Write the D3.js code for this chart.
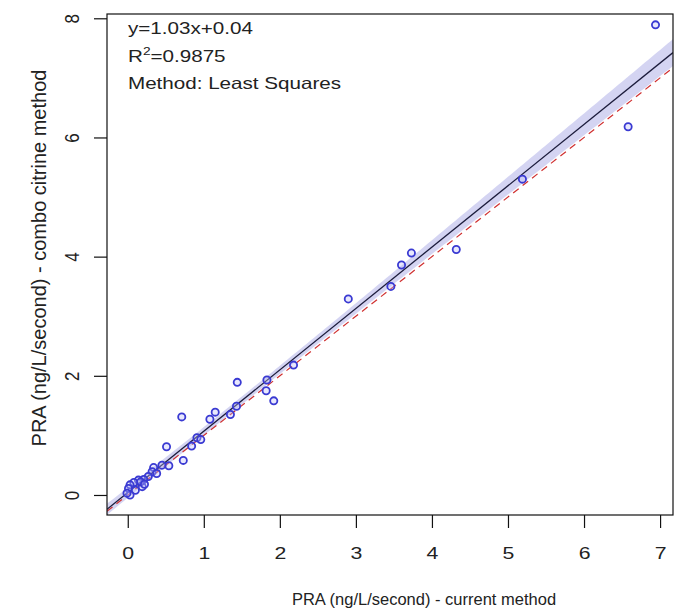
<!DOCTYPE html>
<html>
<head>
<meta charset="utf-8">
<script src="https://cdn.jsdelivr.net/npm/d3@7"></script>
<style>
  body { margin: 0; background: #fff; }
  text { font-family: "Liberation Sans", Arial, sans-serif; fill: #222; }
</style>
</head>
<body>
<div id="chart"></div>
<script>
// Data
var currentMethod = [6.94, 6.58, 5.19, 4.32, 3.73, 3.60, 3.46, 2.90, 2.18, 1.92,
  1.82, 1.83, 1.44, 1.43, 1.35, 1.15, 1.08, 0.71, 0.91, 0.96,
  0.84, 0.73, 0.51, 0.54, 0.45, 0.34, 0.32, 0.38, 0.27, 0.21,
  0.14, 0.08, 0.03, 0.01, 0.10, 0.19, 0.03, -0.01, 0.17, 0.22]
var comboMethod = [7.89, 6.18, 5.30, 4.12, 4.06, 3.86, 3.50, 3.29, 2.18, 1.58,
  1.75, 1.93, 1.89, 1.49, 1.35, 1.39, 1.27, 1.31, 0.96, 0.93,
  0.82, 0.58, 0.81, 0.49, 0.50, 0.46, 0.39, 0.36, 0.31, 0.26,
  0.25, 0.21, 0.17, 0.11, 0.08, 0.14, 0.00, 0.03, 0.22, 0.18]

var slope = 1.03
var intercept = 0.04
var rSquared = 0.9875
var xTicks = [0, 1, 2, 3, 4, 5, 6, 7]
var yTicks = [0, 2, 4, 6, 8]
var fitLines = ["y=1.03x+0.04", "R2=0.9875", "Method: Least Squares"]

var svgWidth = 675
var svgHeight = 611
var margin = { top: 14, right: 2, bottom: 96, left: 107 }
var width = svgWidth - margin.left - margin.right
var height = svgHeight - margin.top - margin.bottom
var stretch = 1.25   // the picture is a bit wider than tall
var fontSize = 16.5

var svg = d3.select("#chart")
  .append("svg")
  .attr("width", svgWidth)
  .attr("height", svgHeight)

var chartGroup = svg.append("g")
  .attr("transform", `translate(${margin.left}, ${margin.top})`)

var xScale = d3.scaleLinear().domain([-0.273, 7.17]).range([0, width])
var yScale = d3.scaleLinear().domain([-0.336, 8.072]).range([height, 0])

svg.append("defs").append("clipPath")
  .attr("id", "plotClip")
  .append("rect")
  .attr("width", width)
  .attr("height", height)

var plotArea = chartGroup.append("g").attr("clip-path", "url(#plotClip)")

// confidence band of the fitted line (residual error taken from R squared)
var data = currentMethod.map((d, i) => ({ x: d, y: comboMethod[i] }))
var n = data.length
var xMean = d3.mean(data, d => d.x)
var yMean = d3.mean(data, d => d.y)
var sxx = d3.sum(data, d => (d.x - xMean) * (d.x - xMean))
var sst = d3.sum(data, d => (d.y - yMean) * (d.y - yMean))
var s = Math.sqrt((1 - rSquared) * sst / (n - 2))
var tCrit = 2.02

var bandX = d3.range(-0.3, 7.3, 0.05)
var band = bandX.map(function(x) {
  var fit = slope * x + intercept
  var half = tCrit * s * Math.sqrt(1 / n + (x - xMean) * (x - xMean) / sxx)
  return { x: x, lo: fit - half, hi: fit + half }
})

plotArea.append("path")
  .datum(band)
  .attr("fill", "#c6c6ee")
  .attr("opacity", 0.75)
  .attr("d", d3.area()
    .x(d => xScale(d.x))
    .y0(d => yScale(d.lo))
    .y1(d => yScale(d.hi)))

// identity line
var xEnds = xScale.domain()
plotArea.append("line")
  .attr("x1", xScale(xEnds[0])).attr("y1", yScale(xEnds[0]))
  .attr("x2", xScale(xEnds[1])).attr("y2", yScale(xEnds[1]))
  .attr("stroke", "#d03030")
  .attr("stroke-width", 1.2)
  .attr("stroke-dasharray", "7,5")

// fitted line
plotArea.append("line")
  .attr("x1", xScale(xEnds[0])).attr("y1", yScale(slope * xEnds[0] + intercept))
  .attr("x2", xScale(xEnds[1])).attr("y2", yScale(slope * xEnds[1] + intercept))
  .attr("stroke", "#1c1c3c")
  .attr("stroke-width", 1.3)

// points
plotArea.selectAll("circle")
  .data(data)
  .enter()
  .append("circle")
  .attr("cx", d => xScale(d.x))
  .attr("cy", d => yScale(d.y))
  .attr("r", 3.6)
  .attr("fill", "rgba(190,190,250,0.35)")
  .attr("stroke", "#3a3ad2")
  .attr("stroke-width", 1.8)

// frame
chartGroup.append("rect")
  .attr("width", width)
  .attr("height", height)
  .attr("fill", "none")
  .attr("stroke", "#111")
  .attr("stroke-width", 1.2)

// axes
var xAxis = chartGroup.append("g")
  .attr("transform", `translate(0, ${height})`)
  .call(d3.axisBottom(xScale).tickValues(xTicks).tickSize(13).tickPadding(19).tickFormat(d3.format("d")))
xAxis.select(".domain").remove()
xAxis.selectAll("line").attr("stroke", "#111").attr("stroke-width", 1.2)
xAxis.selectAll("text")
  .attr("font-size", 17)
  .attr("font-family", "Liberation Sans, Arial, sans-serif")
  .attr("fill", "#222")
  .attr("transform", `scale(${stretch},1)`)

var yAxis = chartGroup.append("g")
  .call(d3.axisLeft(yScale).tickValues(yTicks).tickSize(13).tickFormat(d3.format("d")))
yAxis.select(".domain").remove()
yAxis.selectAll("line").attr("stroke", "#111").attr("stroke-width", 1.2)
yAxis.selectAll("text")
  .attr("x", 0)
  .attr("y", 0)
  .attr("dy", "0.35em")
  .attr("text-anchor", "middle")
  .attr("font-size", 17)
  .attr("font-family", "Liberation Sans, Arial, sans-serif")
  .attr("fill", "#222")
  .attr("transform", `translate(-35, 0) scale(1.15,1) rotate(-90)`)

// axis titles
svg.append("text")
  .attr("transform", `translate(424, 605)`)
  .attr("text-anchor", "middle")
  .attr("font-size", 16.5)
  .text("PRA (ng/L/second) - current method")

svg.append("text")
  .attr("transform", `translate(46, 258) rotate(-90)`)
  .attr("text-anchor", "middle")
  .attr("font-size", 20)
  .text("PRA (ng/L/second) - combo citrine method")

// fit annotation
var note = svg.append("g")
note.append("text")
  .attr("transform", `translate(128, 34) scale(${stretch},1)`)
  .attr("font-size", fontSize)
  .text(fitLines[0])

var r2 = note.append("text")
  .attr("transform", `translate(128, 62) scale(${stretch},1)`)
  .attr("font-size", fontSize)
r2.append("tspan").text(fitLines[1].slice(0, 1))
r2.append("tspan").attr("font-size", 11).attr("dy", -7).text(fitLines[1].slice(1, 2))
r2.append("tspan").attr("dy", 7).text(fitLines[1].slice(2))

note.append("text")
  .attr("transform", `translate(128, 89) scale(${stretch},1)`)
  .attr("font-size", fontSize)
  .attr("fill", "#333")
  .text(fitLines[2])
</script>
</body>
</html>
